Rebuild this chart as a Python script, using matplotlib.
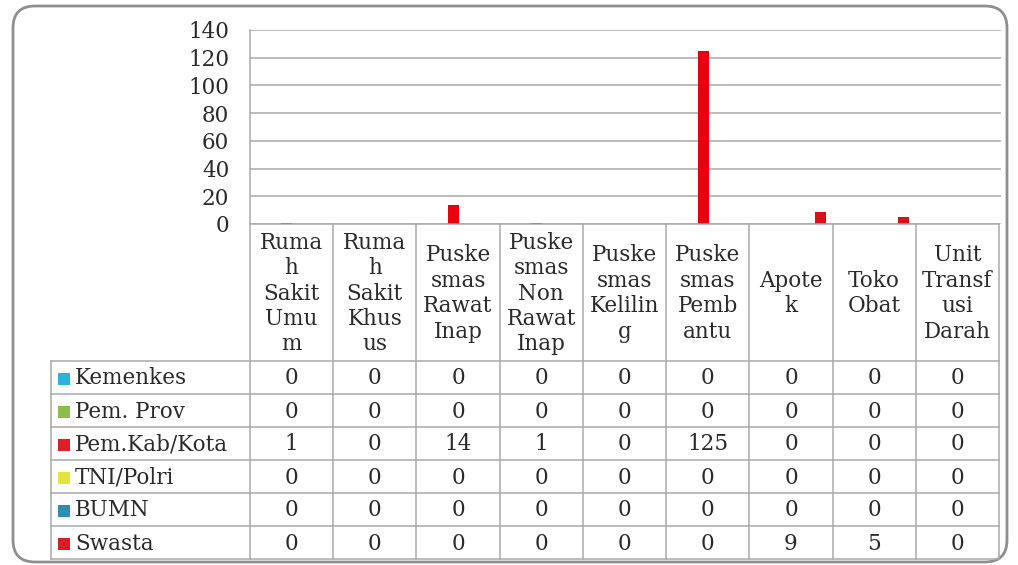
import matplotlib
matplotlib.use('Agg')
import matplotlib.pyplot as plt
import numpy as np
from matplotlib.patches import FancyBboxPatch, Rectangle

# --- data ---
categories = [
    "Ruma\nh\nSakit\nUmu\nm",
    "Ruma\nh\nSakit\nKhus\nus",
    "Puske\nsmas\nRawat\nInap",
    "Puske\nsmas\nNon\nRawat\nInap",
    "Puske\nsmas\nKelilin\ng",
    "Puske\nsmas\nPemb\nantu",
    "Apote\nk",
    "Toko\nObat",
    "Unit\nTransf\nusi\nDarah",
]
series_names = ["Kemenkes", "Pem. Prov", "Pem.Kab/Kota", "TNI/Polri", "BUMN", "Swasta"]
kemenkes = [0, 0, 0, 0, 0, 0, 0, 0, 0]
pem_prov = [0, 0, 0, 0, 0, 0, 0, 0, 0]
pem_kab_kota = [1, 0, 14, 1, 0, 125, 0, 0, 0]
tni_polri = [0, 0, 0, 0, 0, 0, 0, 0, 0]
bumn = [0, 0, 0, 0, 0, 0, 0, 0, 0]
swasta = [0, 0, 0, 0, 0, 0, 9, 5, 0]
series_values = [kemenkes, pem_prov, pem_kab_kota, tni_polri, bumn, swasta]
y_ticks = [0, 20, 40, 60, 80, 100, 120, 140]

colors = ['#2ab4de', '#8cbd4f', '#e01e28', '#e4e43a', '#2f8db0', '#d81c26']
bar_colors = ['#2ab4de', '#8cbd4f', '#e8000e', '#e4e43a', '#2f8db0', '#d8101c']
text_color = '#2a2a2a'
line_color = '#a9a9a9'
FONT = 'DejaVu Serif'
FS = 15.5

W, H = 1018, 565
fig = plt.figure(figsize=(W / 100, H / 100), dpi=100)
fig.patch.set_facecolor('white')

# background layer in pixel coords
bg = fig.add_axes([0, 0, 1, 1], zorder=0)
bg.set_xlim(0, W)
bg.set_ylim(H, 0)
bg.axis('off')
frame = FancyBboxPatch((13, 6), W - 24, H - 9, boxstyle='round,pad=0,rounding_size=22',
                       facecolor='white', edgecolor='#8f8f8f', linewidth=2)
bg.add_patch(frame)

# --- chart area ---
px_left, px_right, px_top, px_bottom = 250, 1001, 30, 224
ax = fig.add_axes([px_left / W, 1 - px_bottom / H, (px_right - px_left) / W,
                   (px_bottom - px_top) / H], zorder=2)
ax.patch.set_alpha(0)
n_cat = len(categories)
x = np.arange(n_cat)
bw = 0.133
for i, vals in enumerate(series_values):
    ax.bar(x + (i - 2.5) * bw, vals, width=bw, color=bar_colors[i], linewidth=0, zorder=3)
ax.set_xlim(-0.5, n_cat - 0.5)
ax.set_ylim(0, 140)
ax.set_yticks(y_ticks)
ax.set_yticklabels([str(t) for t in y_ticks], fontsize=FS, family=FONT, color=text_color)
ax.set_xticks([])
ax.tick_params(axis='y', length=0, pad=15)
ax.yaxis.grid(True, color=line_color, linewidth=1.1)
ax.set_axisbelow(True)
for s in ['top', 'right', 'bottom']:
    ax.spines[s].set_visible(False)
ax.spines['left'].set_color(line_color)
ax.spines['left'].set_linewidth(1.1)

# --- data table ---
tb = fig.add_axes([0, 0, 1, 1], zorder=3)
tb.set_xlim(0, W)
tb.set_ylim(H, 0)
tb.axis('off')
col_edges = np.linspace(px_left, px_right - 2, n_cat + 1)
label_left = 51
header_bottom = 361
row_h = 33
row_edges = [header_bottom + r * row_h for r in range(len(series_names) + 1)]
table_bottom = row_edges[-1]

for xe in col_edges:
    tb.plot([xe, xe], [px_bottom, table_bottom], color=line_color, lw=1.1)
tb.plot([px_left, col_edges[-1]], [px_bottom, px_bottom], color=line_color, lw=1.1)
for ye in row_edges:
    tb.plot([label_left, col_edges[-1]], [ye, ye], color=line_color, lw=1.1)
tb.plot([label_left, label_left], [header_bottom, table_bottom], color=line_color, lw=1.1)

for j, cat in enumerate(categories):
    cx = (col_edges[j] + col_edges[j + 1]) / 2
    tb.text(cx, (px_bottom + header_bottom) / 2 + 1, cat, ha='center', va='center',
            fontsize=FS, family=FONT, color=text_color, linespacing=1.2)

for r, (name, vals) in enumerate(zip(series_names, series_values)):
    cy = (row_edges[r] + row_edges[r + 1]) / 2
    tb.add_patch(Rectangle((58, cy - 5), 12, 12, facecolor=colors[r], edgecolor='none'))
    tb.text(75, cy + 1, name, ha='left', va='center', fontsize=FS, family=FONT,
            color=text_color)
    for j, v in enumerate(vals):
        cx = (col_edges[j] + col_edges[j + 1]) / 2
        tb.text(cx, cy + 1, str(v), ha='center', va='center', fontsize=FS,
                family=FONT, color=text_color)

fig.savefig('out.png', dpi=100)
